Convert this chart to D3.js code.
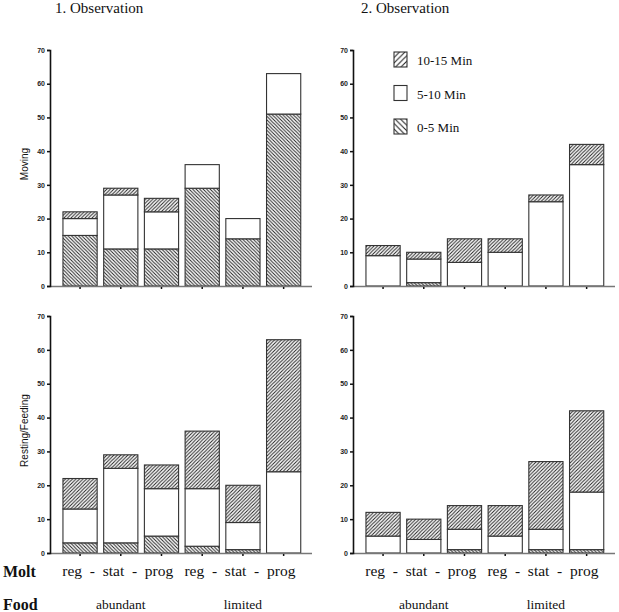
<!DOCTYPE html>
<html lang="en">
<head>
<meta charset="UTF-8">
<title>Observation bars</title>
<script src="https://cdn.jsdelivr.net/npm/d3@7"></script>
<style>
  body { margin: 0; background: #fff; }
  .tick text { font-family: Arial, "Liberation Sans", sans-serif; font-size: 7px; font-weight: bold; fill: #222; }
</style>
</head>
<body>
<div id="chart"></div>
<script>
// categories: molt x food
var cats = ["reg-ab", "stat-ab", "prog-ab", "reg-lim", "stat-lim", "prog-lim"];
var moltLabels = ["reg", "stat", "prog", "reg", "stat", "prog"];
var foodLabels = ["abundant", "limited"];
var seriesKeys = ["m0_5", "m5_10", "m10_15"];
var legendLabels = ["10-15 Min", "5-10 Min", "0-5 Min"];
var yTicks = [0, 10, 20, 30, 40, 50, 60, 70];

// Moving, 1. Observation
var moving1_0to5 = [15, 11, 11, 29, 14, 51];
var moving1_5to10 = [5, 16, 11, 7, 6, 12];
var moving1_10to15 = [2, 2, 4, 0, 0, 0];
// Moving, 2. Observation
var moving2_0to5 = [0, 1, 0, 0, 0, 0];
var moving2_5to10 = [9, 7, 7, 10, 25, 36];
var moving2_10to15 = [3, 2, 7, 4, 2, 6];
// Resting/Feeding, 1. Observation
var resting1_0to5 = [3, 3, 5, 2, 1, 0];
var resting1_5to10 = [10, 22, 14, 17, 8, 24];
var resting1_10to15 = [9, 4, 7, 17, 11, 39];
// Resting/Feeding, 2. Observation
var resting2_0to5 = [0, 0, 1, 0, 1, 1];
var resting2_5to10 = [5, 4, 6, 5, 6, 17];
var resting2_10to15 = [7, 6, 7, 9, 20, 24];

var SERIF = "'Liberation Serif', 'Times New Roman', serif";

function rows(a, b, c) {
    return cats.map(function(k, i) {
        return {cat: k, m0_5: a[i], m5_10: b[i], m10_15: c[i]};
    });
}

var panels = [
    {x: 50, y: 50, h: 236, data: rows(moving1_0to5, moving1_5to10, moving1_10to15), label: "Moving"},
    {x: 353, y: 50, h: 236, data: rows(moving2_0to5, moving2_5to10, moving2_10to15), label: null},
    {x: 50, y: 316, h: 237, data: rows(resting1_0to5, resting1_5to10, resting1_10to15), label: "Resting/Feeding"},
    {x: 353, y: 316, h: 237, data: rows(resting2_0to5, resting2_5to10, resting2_10to15), label: null}
];

var svg = d3.select("#chart").append("svg")
    .attr("width", 619)
    .attr("height", 612);

var defs = svg.append("defs");
function hatch(id, size, down, sw) {
    var p = defs.append("pattern")
        .attr("id", id)
        .attr("patternUnits", "userSpaceOnUse")
        .attr("width", size)
        .attr("height", size);
    p.append("rect").attr("width", size).attr("height", size).attr("fill", "#fff");
    var s = size;
    var d = down
        ? "M-1,-1L" + (s + 1) + "," + (s + 1) + "M" + (s - 1) + ",-1L" + (s + 1) + ",1M-1," + (s - 1) + "L1," + (s + 1)
        : "M-1," + (s + 1) + "L" + (s + 1) + ",-1M-1,1L1,-1M" + (s - 1) + "," + (s + 1) + "L" + (s + 1) + "," + (s - 1);
    p.append("path").attr("d", d).attr("stroke", "#222").attr("stroke-width", sw);
}
hatch("h05", 3.5, true, 1);
hatch("h1015", 3.5, false, 1);
hatch("lg05", 5.5, true, 1.1);
hatch("lg1015", 5.5, false, 1.1);

var fills = {m0_5: "url(#h05)", m5_10: "#fff", m10_15: "url(#h1015)"};

var stack = d3.stack().keys(seriesKeys);

function serifText(sel, size) {
    return sel.style("font-family", SERIF).style("font-size", size).attr("fill", "#111");
}

panels.forEach(function(p) {
    var g = svg.append("g").attr("transform", "translate(" + p.x + "," + p.y + ")");
    var x = d3.scaleBand().domain(cats).range([9.7, 254]).paddingInner(0.16).paddingOuter(0.08);
    var y = d3.scaleLinear().domain([0, 70]).range([p.h, 0]);

    var layers = g.selectAll("g.layer")
        .data(stack(p.data))
        .enter().append("g")
        .attr("class", "layer")
        .attr("fill", function(d) { return fills[d.key]; });

    layers.selectAll("rect")
        .data(function(d) { return d.filter(function(v) { return v[1] > v[0]; }); })
        .enter().append("rect")
        .attr("x", function(d) { return x(d.data.cat); })
        .attr("width", x.bandwidth())
        .attr("y", function(d) { return y(d[1]); })
        .attr("height", function(d) { return y(d[0]) - y(d[1]); })
        .attr("stroke", "#333")
        .attr("stroke-width", 1.1);

    // x axis line with small ticks
    g.append("line")
        .attr("x1", 0).attr("x2", 262)
        .attr("y1", p.h + 0.5).attr("y2", p.h + 0.5)
        .attr("stroke", "#777").attr("stroke-width", 1.5);
    g.selectAll("line.xt")
        .data(cats)
        .enter().append("line")
        .attr("class", "xt")
        .attr("x1", function(d) { return x(d) + x.bandwidth() / 2; })
        .attr("x2", function(d) { return x(d) + x.bandwidth() / 2; })
        .attr("y1", p.h + 1).attr("y2", p.h + 3)
        .attr("stroke", "#111").attr("stroke-width", 1.5);

    var ax = g.append("g")
        .call(d3.axisLeft(y).tickValues(yTicks).tickSize(3).tickPadding(2));
    ax.select(".domain").attr("stroke", "#111").attr("stroke-width", 1.6);
    ax.selectAll(".tick line").attr("stroke", "#111").attr("stroke-width", 1.5);

    if (p.label) {
        g.append("text")
            .attr("transform", "translate(-22," + (p.h / 2 - 4) + ") rotate(-90)")
            .attr("text-anchor", "middle")
            .style("font-family", "Arial, 'Liberation Sans', sans-serif")
            .style("font-size", "10px")
            .attr("fill", "#111")
            .text(p.label);
    }

    // category labels under bottom panels: one line per food group
    if (p.y > 300) {
        var cx = function(i) { return p.x + x(cats[i]) + x.bandwidth() / 2; };
        foodLabels.forEach(function(f, j) {
            var mid = (cx(j * 3) + cx(j * 3 + 2)) / 2;
            serifText(svg.append("text")
                .attr("x", mid - 3)
                .attr("y", 576)
                .attr("text-anchor", "middle")
                .style("white-space", "pre")
                .attr("xml:space", "preserve"), "15.5px")
                .text(moltLabels.slice(j * 3, j * 3 + 3).join("  -  "));
            serifText(svg.append("text")
                .attr("x", mid)
                .attr("y", 609)
                .attr("text-anchor", "middle"), "13.5px")
                .text(f);
        });
    }
});

// titles
serifText(svg.append("text").attr("x", 55).attr("y", 13), "15px").text("1. Observation");
serifText(svg.append("text").attr("x", 361).attr("y", 13), "15px").text("2. Observation");

// row headers
serifText(svg.append("text").attr("x", 3).attr("y", 577), "16px")
    .style("font-weight", "bold").text("Molt");
serifText(svg.append("text").attr("x", 3).attr("y", 610), "16px")
    .style("font-weight", "bold").text("Food");

// legend
var legendFills = ["url(#lg1015)", "#fff", "url(#lg05)"];
var legend = svg.append("g").attr("transform", "translate(394,52)");
legend.selectAll("rect")
    .data(legendLabels)
    .enter().append("rect")
    .attr("x", 0)
    .attr("y", function(d, i) { return i * 33.5; })
    .attr("width", 13)
    .attr("height", 15)
    .attr("fill", function(d, i) { return legendFills[i]; })
    .attr("stroke", "#333")
    .attr("stroke-width", 1.1);
serifText(legend.selectAll("text")
    .data(legendLabels)
    .enter().append("text")
    .attr("x", 23)
    .attr("y", function(d, i) { return 13 + i * 33.5; }), "13px")
    .text(function(d) { return d; });
</script>
</body>
</html>
